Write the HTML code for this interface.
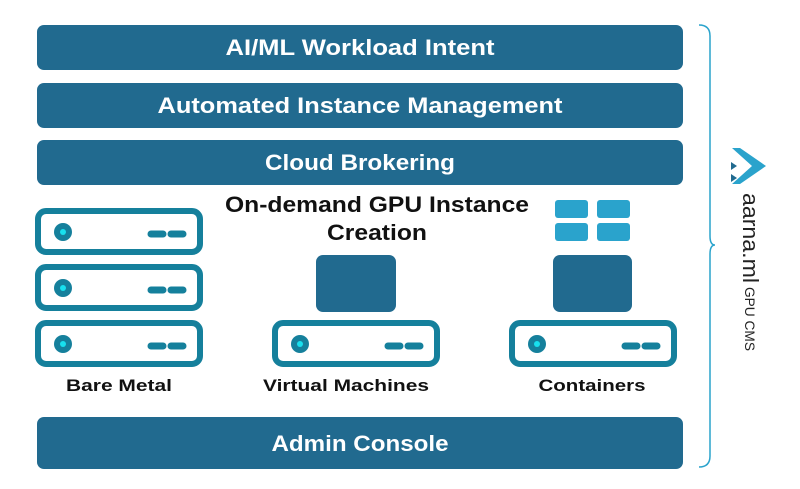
<!DOCTYPE html>
<html><head><meta charset="utf-8"><style>
html,body{margin:0;padding:0;background:#fff;}
svg{display:block;font-family:"Liberation Sans",sans-serif;}
</style></head><body>
<svg width="800" height="489" viewBox="0 0 800 489">
<defs>
<g id="srv">
<rect x="3" y="3" width="162" height="41" rx="8" fill="#fff" stroke="#15809c" stroke-width="6"/>
<circle cx="28" cy="24" r="9" fill="#15809c"/>
<circle cx="28" cy="24" r="3" fill="#18e0ee"/>
<line x1="116" y1="26" x2="128" y2="26" stroke="#15809c" stroke-width="7" stroke-linecap="round"/>
<line x1="136" y1="26" x2="148" y2="26" stroke="#15809c" stroke-width="7" stroke-linecap="round"/>
</g>
</defs>
<g fill="#216a8f">
<rect x="37" y="25" width="646" height="45" rx="7"/>
<rect x="37" y="83" width="646" height="45" rx="7"/>
<rect x="37" y="140" width="646" height="45" rx="7"/>
<rect x="37" y="417" width="646" height="52" rx="7"/>
</g>
<g fill="#fff" font-weight="bold" font-size="22" text-anchor="middle">
<text x="360" y="55" textLength="269" lengthAdjust="spacingAndGlyphs">AI/ML Workload Intent</text>
<text x="360" y="113" textLength="405" lengthAdjust="spacingAndGlyphs">Automated Instance Management</text>
<text x="360" y="170" textLength="190" lengthAdjust="spacingAndGlyphs">Cloud Brokering</text>
<text x="360" y="451" textLength="177" lengthAdjust="spacingAndGlyphs">Admin Console</text>
</g>
<g fill="#111" font-weight="bold" font-size="22" text-anchor="middle">
<text x="377" y="212" textLength="304" lengthAdjust="spacingAndGlyphs">On-demand GPU Instance</text>
<text x="377" y="240" textLength="100" lengthAdjust="spacingAndGlyphs">Creation</text>
</g>
<use href="#srv" x="35" y="208"/>
<use href="#srv" x="35" y="264"/>
<use href="#srv" x="35" y="320"/>
<use href="#srv" x="272" y="320"/>
<use href="#srv" x="509" y="320"/>
<rect x="316" y="255" width="80" height="57" rx="7" fill="#216a8f"/>
<rect x="553" y="255" width="79" height="57" rx="7" fill="#216a8f"/>
<g fill="#2aa3cc">
<rect x="555" y="200" width="33" height="18" rx="3"/>
<rect x="597" y="200" width="33" height="18" rx="3"/>
<rect x="555" y="223" width="33" height="18" rx="3"/>
<rect x="597" y="223" width="33" height="18" rx="3"/>
</g>
<g fill="#111" font-weight="bold" font-size="17" text-anchor="middle">
<text x="119" y="391" textLength="106" lengthAdjust="spacingAndGlyphs">Bare Metal</text>
<text x="346" y="391" textLength="166" lengthAdjust="spacingAndGlyphs">Virtual Machines</text>
<text x="592" y="391" textLength="107" lengthAdjust="spacingAndGlyphs">Containers</text>
</g>
<path d="M699 25 Q710 25 710 36 L710 236 Q710 245 715 245 Q710 245 710 254 L710 456 Q710 467 699 467" fill="none" stroke="#2aa3cc" stroke-width="1.5"/>
<polygon points="732,148 740,148 766,166 740,184 732,184 752,166" fill="#2aa3cc" transform="translate(0,0)"/>
<polygon points="731,162 737,166 731,170" fill="#216a8f"/>
<polygon points="731,174 737,178 731,182" fill="#216a8f"/>
<text transform="translate(743,193) rotate(90)" font-size="22" fill="#222" textLength="90" lengthAdjust="spacingAndGlyphs">aarna.ml</text>
<text transform="translate(745,287) rotate(90)" font-size="14" fill="#222" textLength="64" lengthAdjust="spacingAndGlyphs">GPU CMS</text>
</svg>
</body></html>
